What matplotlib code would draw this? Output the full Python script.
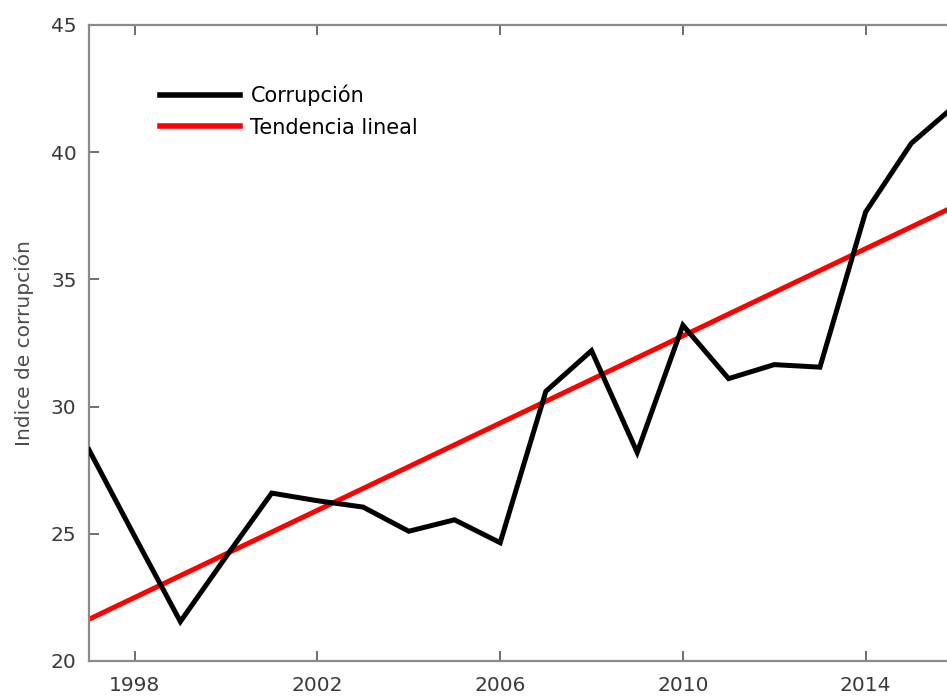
import matplotlib
matplotlib.use("Agg")
import matplotlib.pyplot as plt
import numpy as np

# Annual corruption index
years = [1997, 1998, 1999, 2000, 2001, 2002, 2003, 2004, 2005, 2006,
         2007, 2008, 2009, 2010, 2011, 2012, 2013, 2014, 2015, 2016]
corruption = [28.3, 24.9, 21.55, 24.1, 26.6, 26.3, 26.05, 25.1, 25.55, 24.65,
              30.6, 32.2, 28.2, 33.2, 31.1, 31.65, 31.55, 37.65, 40.35, 41.9]

# Linear trend end points
trend_years = [1997, 2016]
trend_values = [21.64, 37.92]

x_ticks = [1998, 2002, 2006, 2010, 2014]
y_ticks = [20, 25, 30, 35, 40, 45]

plt.rcParams['font.family'] = ['DejaVu Sans']

W, H = 947, 699
fig = plt.figure(figsize=(W / 100, H / 100), dpi=100)
left, right_px, top_px, bottom_px = 89, 957, 25, 661
ax = fig.add_axes([left / W, (H - bottom_px) / H,
                   (right_px - left) / W, (bottom_px - top_px) / H])

ax.plot(years, corruption, color='black', lw=3.6, label='Corrupción',
        solid_joinstyle='miter', zorder=3)
ax.plot(trend_years, trend_values, color='#ff0000', lw=3.6,
        label='Tendencia lineal', zorder=2)

ax.set_xlim(1997, 2016)
ax.set_ylim(20, 45)
ax.set_xticks(x_ticks)
ax.set_yticks(y_ticks)

spine_color = '#8a8a8a'
for side in ['left', 'bottom', 'top']:
    ax.spines[side].set_color(spine_color)
    ax.spines[side].set_linewidth(1.6)
ax.spines['right'].set_visible(False)

ax.tick_params(axis='both', direction='in', length=7, width=1.2,
               color='#555555', labelsize=14.5, labelcolor='#3a3a3a')
ax.tick_params(axis='x', pad=11, top=True)
ax.tick_params(axis='y', pad=9)

ax.set_ylabel('Indice de corrupción', fontsize=14.5, color='#4a4a4a', labelpad=12)

leg = ax.legend(loc='upper left', bbox_to_anchor=(0.082, 0.906), frameon=False,
                fontsize=15, handlelength=3.85, handletextpad=0.48,
                labelspacing=0.55, borderaxespad=0, borderpad=0)
for line in leg.get_lines():
    line.set_linewidth(4)

fig.savefig('out.png', dpi=100)
